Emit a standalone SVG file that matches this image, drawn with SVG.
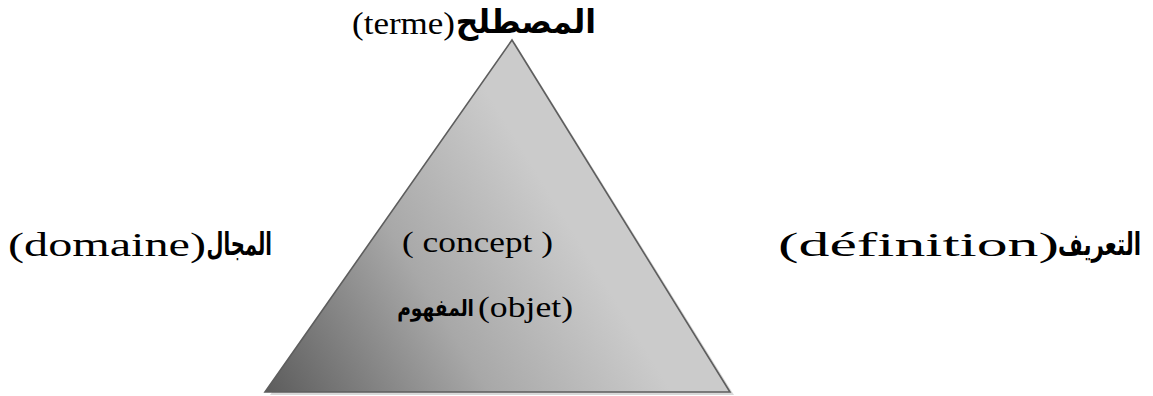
<svg xmlns="http://www.w3.org/2000/svg" width="1153" height="396" viewBox="0 0 1153 396">
<style>
.lat{font-family:"Liberation Serif","DejaVu Serif",serif;fill:#000;}
.ar{font-family:"DejaVu Sans","Noto Sans",sans-serif;font-weight:bold;fill:#000;}
</style>
<defs>
<linearGradient id="g" gradientUnits="userSpaceOnUse" x1="265" y1="392" x2="560" y2="210">
<stop offset="0" stop-color="#5c5c5c"/>
<stop offset="0.55" stop-color="#a8a8a8"/>
<stop offset="1" stop-color="#cbcbcb"/>
</linearGradient>
</defs>
<rect width="1153" height="396" fill="#fff"/>
<g id="triangle">
<polygon points="515,43 270,395 734,395" fill="#c8c8c8" opacity="0.7"/>
<polygon points="512,40 265,392 730,392" fill="url(#g)" stroke="#5e5e5e" stroke-width="1.6" stroke-linejoin="miter"/>
</g>
<g id="terme">
<text class="lat" x="352" y="34" font-size="32" textLength="103" lengthAdjust="spacingAndGlyphs">(terme)</text>
<text class="ar" transform="translate(596,33) scale(0.95,1)" x="0" y="0" font-size="33" text-anchor="end">المصطلح</text>
</g>
<g id="domaine">
<text class="lat" x="8" y="256" font-size="34" textLength="198" lengthAdjust="spacingAndGlyphs">(domaine)</text>
<text class="ar" transform="translate(272,255) scale(0.63,1)" x="0" y="0" font-size="31" text-anchor="end">المجال</text>
</g>
<g id="definition">
<text class="lat" x="778" y="256" font-size="34" textLength="281" lengthAdjust="spacingAndGlyphs">(définition)</text>
<text class="ar" transform="translate(1141,255) scale(0.69,1)" x="0" y="0" font-size="31" text-anchor="end">التعريف</text>
</g>
<g id="concept">
<text class="lat" x="402" y="252" font-size="30" textLength="151" lengthAdjust="spacingAndGlyphs">( concept )</text>
<text class="ar" transform="translate(474,316) scale(0.81,1)" x="0" y="0" font-size="23" text-anchor="end">المفهوم</text>
<text class="lat" x="478" y="317" font-size="30" textLength="95" lengthAdjust="spacingAndGlyphs">(objet)</text>
</g>
</svg>
